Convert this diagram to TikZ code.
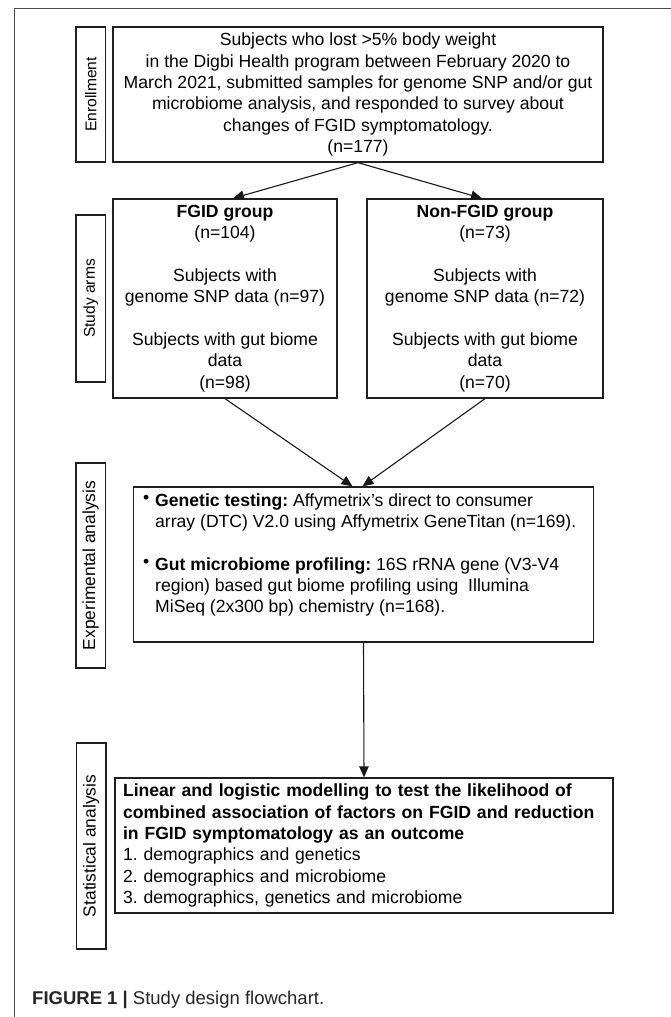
\documentclass[tikz,border=0pt]{standalone}
\usepackage{fontspec}
\setmainfont{Liberation Sans}
\usepackage{graphicx}
\usetikzlibrary{arrows.meta}
\frenchspacing
\begin{document}
\begin{tikzpicture}[x=1pt,y=-1pt,
  box/.style={draw=black!88, line width=1.3pt, inner sep=0pt, align=center,
    font=\fontsize{17.6}{21.3}\selectfont},
  lab/.style={draw=black!88, line width=1.3pt, inner sep=0pt, rotate=90,
    minimum height=29.5pt, font=\fontsize{15.6}{18}\selectfont},
  labB/.style={lab, font=\fontsize{17.4}{20}\selectfont},
  txt/.style={inner sep=0pt, align=left, font=\fontsize{17.6}{21.3}\selectfont},
  arr/.style={line width=1.1pt, draw=black!90, -{Triangle[length=11pt,width=9.5pt]}},
  frame/.style={line width=1.2pt, draw=black!70}]
\fill[white] (0,0) rectangle (671,1017);
\useasboundingbox (0,0) rectangle (671,1017);
% outer frame
\coordinate (fa) at (14.5,1017);
\coordinate (fb) at (14.5,8.5);
\coordinate (fc) at (671,8.5);
\draw[frame] (fa) -- (fb) -- (fc);
% enrollment
\node[box, minimum width=490pt, minimum height=135pt] (enr) at (358,94.5)
 {Subjects who lost >5\% body weight\\
  in the Digbi Health program between February 2020 to\\
  March 2021, submitted samples for genome SNP and/or gut\\
  microbiome analysis, and responded to survey about\\
  changes of FGID symptomatology.\\
  (n=177)};
\node[lab, minimum width=135pt] (lenr) at (90.75,94.5) {Enrollment};
% study arms
\node[box, minimum width=224pt, minimum height=199pt] (fgid) at (225,298.5)
 {\textbf{FGID group}\\
  (n=104)\\[21.3pt]
  Subjects with\\
  genome SNP data (n=97)\\[21.3pt]
  Subjects with gut biome\\
  data\\
  (n=98)};
\node[box, minimum width=236pt, minimum height=199pt] (non) at (485,298.5)
 {\textbf{Non-FGID group}\\
  (n=73)\\[21.3pt]
  Subjects with\\
  genome SNP data (n=72)\\[21.3pt]
  Subjects with gut biome\\
  data\\
  (n=70)};
\node[lab, minimum width=167pt] (larms) at (90.75,298.5) {Study arms};
% experimental analysis
\node[box, minimum width=460pt, minimum height=155pt] (exp) at (363.5,564.5) {};
\node[txt, anchor=north west] (exptxt) at (143,493.5)
 {\makebox[12pt][l]{\raisebox{0.18em}{\textbullet}}\textbf{Genetic testing:} Affymetrix’s direct to consumer\\
  \hspace*{12pt}array (DTC) V2.0 using Affymetrix GeneTitan (n=169).\\[21.3pt]
  \makebox[12pt][l]{\raisebox{0.18em}{\textbullet}}\textbf{Gut microbiome profiling:} 16S rRNA gene (V3-V4\\
  \hspace*{12pt}region) based gut biome profiling using\ \ Illumina\\
  \hspace*{12pt}MiSeq (2x300 bp) chemistry (n=168).};
\node[labB, minimum width=205pt] (lexp) at (90.75,565.5) {Experimental analysis};
% statistical analysis
\node[box, minimum width=498pt, minimum height=135pt, text width=482pt, align=left] (stat) at (364,845.5)
 {\textbf{Linear and logistic modelling to test the likelihood of}\\
  \textbf{combined association of factors on FGID and reduction}\\
  \textbf{in FGID symptomatology as an outcome}\\
  1. demographics and genetics\\
  2. demographics and microbiome\\
  3. demographics, genetics and microbiome};
\node[labB, minimum width=206pt] (lstat) at (91.25,846) {Statistical analysis};
% connectors
\draw[arr] (enr.south) -- ([xshift=8pt]fgid.north);
\draw[arr] (enr.south) -- ([xshift=-3pt]non.north);
\draw[arr] (fgid.south) -- ([xshift=-11pt]exp.north);
\draw[arr] (non.south) -- ([xshift=-1pt]exp.north);
\draw[arr] (exp.south) -- (stat.north);
% caption
\node[anchor=base west, inner sep=0pt, text=black!85, font=\fontsize{18.5}{22}\selectfont] (cap) at (32,1004.5)
 {\textbf{FIGURE 1} \textbf{|} Study design flowchart.};
\end{tikzpicture}
\end{document}
